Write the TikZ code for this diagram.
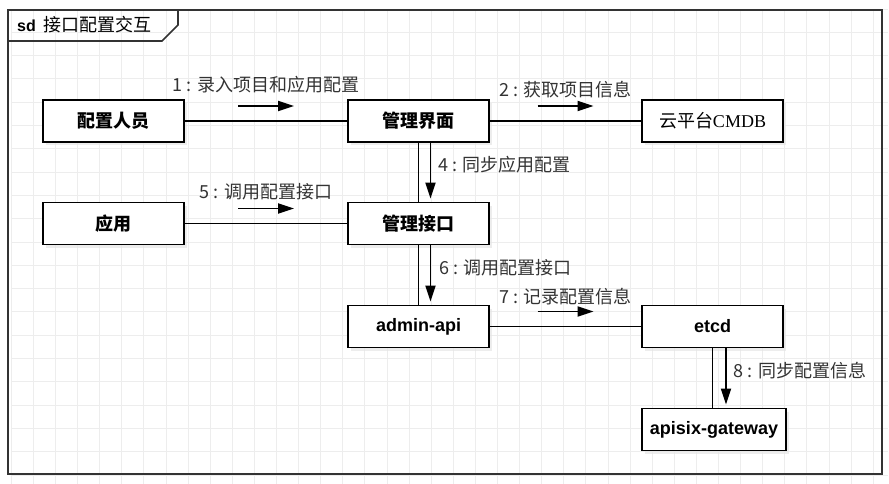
\documentclass[tikz,border=0pt]{standalone}
\usepackage{fontspec}
\setmainfont{Liberation Sans}
\newfontfamily\cjk{Noto Sans CJK SC}
\newfontfamily\cmdbfont{Liberation Serif}
\usetikzlibrary{arrows.meta, positioning, calc, shadows}

\tikzset{
    box/.style={rectangle, draw=black, line width=1.6pt, fill=white, minimum width=141pt, minimum height=42pt, inner sep=0pt, outer sep=0pt, font=\fontsize{18}{20}\selectfont\bfseries, drop shadow={shadow xshift=3pt, shadow yshift=-3pt, fill=black!10, opacity=.7}},
    link/.style={line width=1.2pt, draw=black},
    msg/.style={-{Triangle[length=16pt, width=10pt]}, line width=1.8pt},
    lbl/.style={font=\cjk\fontsize{18}{20}\selectfont, text=black!80, inner sep=0pt},
    gridline/.style={draw=black!7, line width=0.8pt}
}

\begin{document}
\begin{tikzpicture}[x=1pt, y=1pt]
    \useasboundingbox (0,0) rectangle (889,-484);
    % background grid
    \begin{scope}[shift={(11.2,-8.9)}]
        \draw[gridline, xstep=22.1pt, ystep=23.3pt] (0,0) grid (877,-475);
    \end{scope}

    % Frame and title tab
    \draw[line width=1.6pt, draw=black!80] (8,-10) rectangle (882,-474);
    \draw[line width=1.6pt, draw=black!80] (8,-41) -- (162,-41) -- (178,-25) -- (178,-10);
    \node (title) [anchor=west, inner sep=0pt] at (17,-25) {{\fontsize{16}{18}\selectfont\bfseries sd}\hspace{8pt}{\cjk\fontsize{18}{20}\selectfont 接口配置交互}};

    % Objects
    \node (pz) [box] at (113.5,-121) {\cjk 配置人员};
    \node (gljm) [box, right=164pt of pz] {\cjk 管理界面};
    \node (cmdb) [box, right=153pt of gljm, font=\fontsize{18}{20}\selectfont] {{\cjk 云平台}{\cmdbfont CMDB}};
    \node (yy) [box, below=60.5pt of pz] {\cjk 应用};
    \node (gljk) [box, below=60.5pt of gljm] {\cjk 管理接口};
    \node (api) [box, below=61pt of gljk] {admin-api};
    \node (etcd) [box, right=153pt of api] {etcd};
    \node (gw) [box, minimum width=144pt, below=61pt of etcd.south west, anchor=north west] {apisix-gateway};

    % Links
    \draw[link] (pz) -- (gljm);
    \draw[link] (gljm) -- (cmdb);
    \draw[link] (yy) -- (gljk);
    \draw[link] (gljm) -- (gljk);
    \draw[link] (gljk) -- (api);
    \draw[link] (api) -- (etcd);
    \draw[link] (etcd.south) -- (etcd.south |- gw.north);

    % Messages
    \coordinate (c1) at ($(pz.east)!.5!(gljm.west)$);
    \coordinate (c2) at ($(gljm.east)!.5!(cmdb.west)$);
    \coordinate (c5) at ($(yy.east)!.5!(gljk.west)$);
    \coordinate (c7) at ($(api.east)!.5!(etcd.west)$);

    \draw[msg] ([xshift=-28pt, yshift=15pt]c1) -- ([xshift=28pt, yshift=15pt]c1) node[lbl, midway, yshift=21pt] {1 : 录入项目和应用配置};
    \draw[msg] ([xshift=-28pt, yshift=15pt]c2) -- ([xshift=28pt, yshift=15pt]c2) node[lbl, midway, yshift=16pt] {2 : 获取项目信息};
    \draw[msg] ([xshift=12pt]gljm.south) -- ([xshift=12pt, yshift=4pt]gljk.north) node[lbl, pos=.4, right=7pt] {4 : 同步应用配置};
    \draw[msg] ([xshift=-28pt, yshift=15pt]c5) -- ([xshift=28pt, yshift=15pt]c5) node[lbl, midway, yshift=17pt] {5 : 调用配置接口};
    \draw[msg] ([xshift=12pt]gljk.south) -- ([xshift=12pt, yshift=4pt]api.north) node[lbl, pos=.4, right=8pt] {6 : 调用配置接口};
    \draw[msg] ([xshift=-28pt, yshift=15pt]c7) -- ([xshift=28pt, yshift=15pt]c7) node[lbl, midway, yshift=15pt] {7 : 记录配置信息};
    \draw[msg] ([xshift=13.5pt]etcd.south) -- ([xshift=13.5pt, yshift=4pt]etcd.south |- gw.north) node[lbl, pos=.4, right=7pt] {8 : 同步配置信息};
\end{tikzpicture}
\end{document}
